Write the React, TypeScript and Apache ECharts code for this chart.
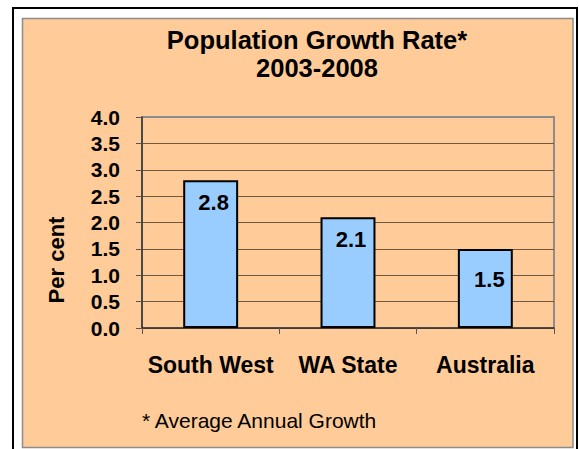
import React, { useEffect, useRef } from "react";
import * as echarts from "echarts";

const categories = ["South West", "WA State", "Australia"];
const growthRates = [2.8, 2.1, 1.5];
const titleLines = ["Population Growth Rate*", "2003-2008"];
const yAxisName = "Per cent";
const footnote = "* Average Annual Growth";

const FONT = 'Arial, "Liberation Sans", Helvetica, sans-serif';

export default function App() {
  const ref = useRef<HTMLDivElement>(null);

  useEffect(() => {
    if (!ref.current) return;
    const chart = echarts.init(ref.current, null, { renderer: "svg" });
    const grid = "#6e5840";
    const splitColors = [grid, grid, grid, grid, grid, grid, grid, grid, "#8c8c8c"];
    const labelOffsets = [[3, 0], [3, 0], [4, 9]];
    chart.setOption({
      animation: false,
      backgroundColor: "#ffffff",
      textStyle: { fontFamily: FONT },
      graphic: [
        {
          type: "rect",
          z: -10,
          shape: { x: 13, y: 8, width: 564, height: 500 },
          style: { fill: "#ffffff", stroke: "#000000", lineWidth: 2 },
        },
        {
          type: "rect",
          z: -9,
          shape: { x: 22.5, y: 18.5, width: 550.5, height: 429 },
          style: { fill: "#FFCC99", stroke: "#8c8c8c", lineWidth: 1.5 },
        },
        {
          type: "text",
          x: 317,
          y: 40,
          style: {
            text: titleLines[0],
            align: "center",
            verticalAlign: "middle",
            fontSize: 25.5,
            fontWeight: "bold",
            fontFamily: FONT,
            fill: "#000",
          },
        },
        {
          type: "text",
          x: 317,
          y: 68,
          style: {
            text: titleLines[1],
            align: "center",
            verticalAlign: "middle",
            fontSize: 25.5,
            fontWeight: "bold",
            fontFamily: FONT,
            fill: "#000",
          },
        },
        {
          type: "text",
          x: 56,
          y: 260,
          rotation: Math.PI / 2,
          style: {
            text: yAxisName,
            align: "center",
            verticalAlign: "middle",
            fontSize: 22,
            fontWeight: "bold",
            fontFamily: FONT,
            fill: "#000",
          },
        },
        {
          type: "text",
          x: 142,
          y: 420,
          style: {
            text: footnote,
            align: "left",
            verticalAlign: "middle",
            fontSize: 21,
            fontFamily: FONT,
            fill: "#000",
          },
        },
      ],
      grid: {
        left: 142,
        top: 117,
        right: 25,
        bottom: 121,
        show: true,
        borderColor: "#8c8c8c",
        borderWidth: 2,
        backgroundColor: "transparent",
      },
      xAxis: {
        type: "category",
        data: categories,
        axisLine: { lineStyle: { color: "#333", width: 1.5 } },
        axisTick: { show: true, length: 6, lineStyle: { color: "#555" } },
        axisLabel: {
          interval: 0,
          hideOverlap: false,
          margin: 25,
          fontSize: 23,
          fontWeight: "bold",
          color: "#000",
          fontFamily: FONT,
        },
      },
      yAxis: {
        type: "value",
        min: 0,
        max: 4,
        interval: 0.5,
        axisLine: { show: true, lineStyle: { color: "#333", width: 1.5 } },
        axisTick: { show: true, length: 6, lineStyle: { color: "#555" } },
        axisLabel: {
          margin: 22,
          fontSize: 21,
          fontWeight: "bold",
          color: "#000",
          fontFamily: FONT,
          formatter: (v: number) => v.toFixed(1),
        },
        splitLine: { show: true, lineStyle: { color: splitColors, width: 1 } },
      },
      series: [
        {
          type: "bar",
          barWidth: "40%",
          data: growthRates.map((v, i) => ({
            value: v,
            label: { offset: labelOffsets[i] },
          })),
          itemStyle: { color: "#99CCFF", borderColor: "#000", borderWidth: 2 },
          label: {
            show: true,
            position: "insideTop",
            distance: 11,
            fontSize: 22,
            fontWeight: "bold",
            color: "#000",
            fontFamily: FONT,
            formatter: (p: any) => Number(p.value).toFixed(1),
          },
        },
      ],
    });
    return () => chart.dispose();
  }, []);

  return (
    <div
      ref={ref}
      style={{ position: "fixed", left: 0, top: 0, width: 579, height: 449 }}
    />
  );
}
